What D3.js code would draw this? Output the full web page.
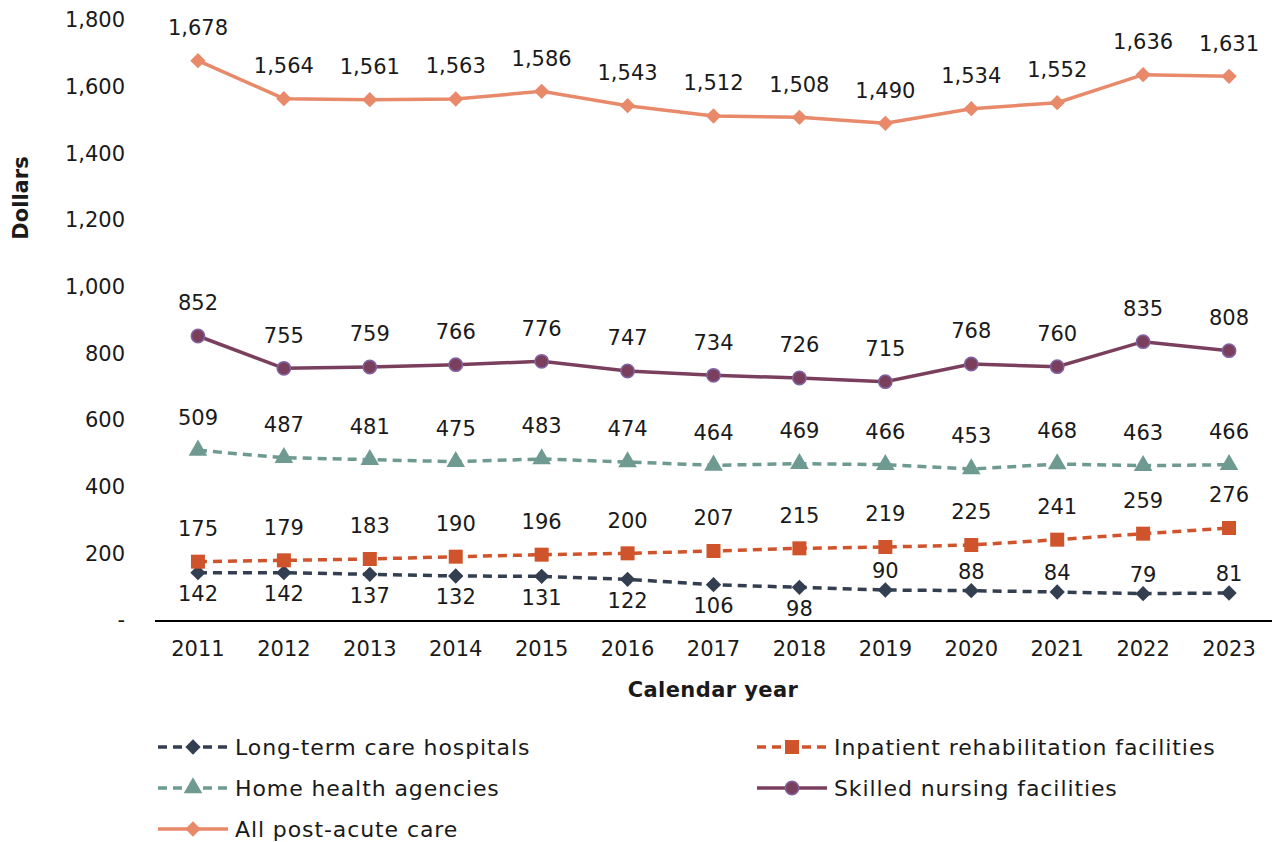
<!DOCTYPE html>
<html>
<head>
<meta charset="utf-8">
<script src="https://cdn.jsdelivr.net/npm/d3@7"></script>
<style>
  body { margin: 0; background: #fff; }
  svg text { font-family: "DejaVu Sans", sans-serif; fill: #1a1a1a; }
</style>
</head>
<body>
<svg id="chart" width="1272" height="842"></svg>
<script>
var years = ["2011","2012","2013","2014","2015","2016","2017","2018","2019","2020","2021","2022","2023"];
var ltch = [142,142,137,132,131,122,106,98,90,88,84,79,81];
var irf = [175,179,183,190,196,200,207,215,219,225,241,259,276];
var hha = [509,487,481,475,483,474,464,469,466,453,468,463,466];
var snf = [852,755,759,766,776,747,734,726,715,768,760,835,808];
var allPac = [1678,1564,1561,1563,1586,1543,1512,1508,1490,1534,1552,1636,1631];
var yTicks = [0,200,400,600,800,1000,1200,1400,1600,1800];

var series = [
    { name: "Long-term care hospitals", values: ltch, color: "#333f50", dash: "9,6", symbol: d3.symbolDiamond2, size: 150, fill: "#333f50", stroke: "none" },
    { name: "Inpatient rehabilitation facilities", values: irf, color: "#d0542b", dash: "9,6", symbol: d3.symbolSquare, size: 196, fill: "#d0542b", stroke: "none" },
    { name: "Home health agencies", values: hha, color: "#6e9a92", dash: "9,6", symbol: d3.symbolTriangle, size: 150, fill: "#6e9a92", stroke: "none" },
    { name: "Skilled nursing facilities", values: snf, color: "#7b3f5e", dash: null, symbol: d3.symbolCircle, size: 140, fill: "#7b3f5e", stroke: "#8064a2" },
    { name: "All post-acute care", values: allPac, color: "#e8896a", dash: null, symbol: d3.symbolDiamond2, size: 150, fill: "#e8896a", stroke: "none" }
];

var svg = d3.select("#chart");
var fontSize = 21;

var x = d3.scaleBand().domain(years).range([155, 1272]);
var y = d3.scaleLinear().domain([0, 1800]).range([620, 20]);

// y tick labels (no axis line)
svg.append("g").selectAll("text")
    .data(yTicks)
    .enter().append("text")
    .attr("x", 125)
    .attr("y", function (d) { return y(d); })
    .attr("dy", "0.35em")
    .attr("text-anchor", "end")
    .style("font-size", fontSize + "px")
    .text(function (d) { return d === 0 ? "-" : d3.format(",")(d); });

// x axis
var xAxis = svg.append("g")
    .attr("transform", "translate(0,621)")
    .call(d3.axisBottom(x).tickSize(0).tickPadding(20));
xAxis.select(".domain").attr("stroke", "#000").attr("stroke-width", 2).attr("d", "M155,0H1272");
xAxis.selectAll(".tick text")
    .style("font-family", "DejaVu Sans, sans-serif")
    .style("font-size", fontSize + "px")
    .attr("fill", "#1a1a1a");

// axis titles
svg.append("text")
    .attr("transform", "translate(28,198) rotate(-90)")
    .attr("text-anchor", "middle")
    .style("font-size", "21px")
    .style("font-weight", "bold")
    .text("Dollars");

svg.append("text")
    .attr("x", 713)
    .attr("y", 697)
    .attr("text-anchor", "middle")
    .style("font-size", "21px")
    .style("font-weight", "bold")
    .style("letter-spacing", "0.4px")
    .text("Calendar year");

var line = d3.line()
    .x(function (d, i) { return x(years[i]) + x.bandwidth() / 2; })
    .y(function (d) { return y(d); });

series.forEach(function (s, si) {
    var g = svg.append("g");
    g.append("path")
        .datum(s.values)
        .attr("fill", "none")
        .attr("stroke", s.color)
        .attr("stroke-width", 3.5)
        .attr("stroke-dasharray", s.dash)
        .attr("d", line);

    g.selectAll("path.marker")
        .data(s.values)
        .enter().append("path")
        .attr("class", "marker")
        .attr("transform", function (d, i) {
            return "translate(" + (x(years[i]) + x.bandwidth() / 2) + "," + y(d) + ")";
        })
        .attr("d", d3.symbol().type(s.symbol).size(s.size))
        .attr("fill", s.fill)
        .attr("stroke", s.stroke)
        .attr("stroke-width", 1.5);

    // data labels
    g.selectAll("text")
        .data(s.values)
        .enter().append("text")
        .attr("x", function (d, i) { return x(years[i]) + x.bandwidth() / 2; })
        .attr("y", function (d, i) {
            if (si === 0) {
                return i < 8 ? y(d) + 21 : y(d) - 19;
            }
            return y(d) - 33;
        })
        .attr("dy", "0.35em")
        .attr("text-anchor", "middle")
        .style("font-size", fontSize + "px")
        .text(function (d) { return d3.format(",")(d); });
});

// legend
var legendPos = [
    [158, 747], [757, 747],
    [158, 788], [757, 788],
    [158, 829]
];
series.forEach(function (s, i) {
    var p = legendPos[i];
    var g = svg.append("g").attr("transform", "translate(" + p[0] + "," + p[1] + ")");
    g.append("line")
        .attr("x1", 0).attr("x2", 70)
        .attr("stroke", s.color)
        .attr("stroke-width", 3.5)
        .attr("stroke-dasharray", s.dash);
    g.append("path")
        .attr("transform", "translate(35,0)")
        .attr("d", d3.symbol().type(s.symbol).size(s.size))
        .attr("fill", s.fill)
        .attr("stroke", s.stroke)
        .attr("stroke-width", 1.5);
    g.append("text")
        .attr("x", 77)
        .attr("dy", "0.35em")
        .style("font-size", "22px")
        .style("letter-spacing", "0.9px")
        .text(s.name);
});
</script>
</body>
</html>
